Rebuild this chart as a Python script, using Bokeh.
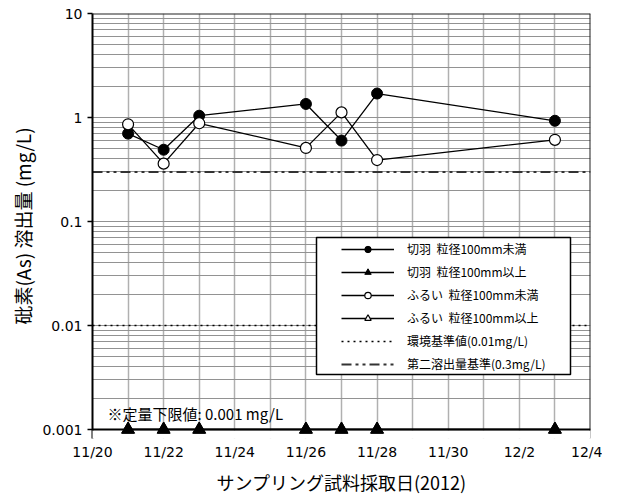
import pandas as pd
from bokeh.plotting import figure
from bokeh.models import (Range1d, FixedTicker, Span, BoxAnnotation, Label,
                          Legend, LegendItem)
from bokeh.embed import file_html
from bokeh.resources import INLINE

# ---------------- data ----------------
sample_dates = ["2012-11-21", "2012-11-22", "2012-11-23", "2012-11-26",
                "2012-11-27", "2012-11-28", "2012-12-03"]
face_lt100 = [0.70, 0.49, 1.04, 1.35, 0.60, 1.70, 0.93]         # 切羽 粒径100mm未満
face_ge100 = [0.001, 0.001, 0.001, 0.001, 0.001, 0.001, 0.001]  # 切羽 粒径100mm以上
sieve_lt100 = [0.86, 0.36, 0.88, 0.51, 1.12, 0.39, 0.61]        # ふるい 粒径100mm未満
sieve_ge100 = [0.001, 0.001, 0.001, 0.001, 0.001, 0.001, 0.001] # ふるい 粒径100mm以上
env_standard = 0.01        # 環境基準値
second_standard = 0.3      # 第二溶出量基準
detection_limit = 0.001

x_start, x_end = "2012-11-20", "2012-12-04"
x_tick_dates = ["2012-11-20", "2012-11-22", "2012-11-24", "2012-11-26",
                "2012-11-28", "2012-11-30", "2012-12-02", "2012-12-04"]
x_tick_labels = ["11/20", "11/22", "11/24", "11/26", "11/28", "11/30", "12/2", "12/4"]
y_ticks = [0.001, 0.01, 0.1, 1, 10]
y_tick_labels = ["0.001", "0.01", "0.1", "1", "10"]

legend_labels = ["切羽  粒径100mm未満", "切羽  粒径100mm以上",
                 "ふるい  粒径100mm未満", "ふるい  粒径100mm以上",
                 "環境基準値(0.01mg/L)", "第二溶出量基準(0.3mg/L)"]


def ms(d):
    return float(pd.Timestamp(d).value // 10**6)


JP = "Noto Sans CJK JP"
NUM = "DejaVu Sans"

# ---------------- layout ----------------
DECADE_PX = 104
EXTRA = 9                      # frame extension below the 0.001 axis (keeps markers unclipped)
y_bottom = detection_limit / 10 ** (EXTRA / DECADE_PX)
FW, FH = 498, 4 * DECADE_PX + EXTRA

xs = pd.to_datetime(sample_dates)
p = figure(x_axis_type="datetime", y_axis_type="log",
           x_range=Range1d(ms(x_start), ms(x_end)),
           y_range=Range1d(y_bottom, y_ticks[-1]),
           frame_width=FW, frame_height=FH,
           min_border_left=92, min_border_right=12, min_border_top=13, min_border_bottom=5,
           output_backend="svg", toolbar_location=None)
p.background_fill_color = "white"
p.border_fill_color = "white"
p.outline_line_color = None

# axes
p.xaxis.ticker = FixedTicker(ticks=[ms(d) for d in x_tick_dates])
p.xaxis.major_label_overrides = {ms(d): lab for d, lab in zip(x_tick_dates, x_tick_labels)}
p.xaxis.axis_line_color = None
p.xaxis.major_tick_line_color = None
p.xaxis.minor_tick_line_color = None
p.xaxis.major_tick_in = 0
p.xaxis.major_tick_out = 0
p.xaxis.major_label_standoff = 5
p.xaxis.major_label_text_font = NUM
p.xaxis.major_label_text_font_size = "14px"
p.xaxis.major_label_text_color = "black"
p.xaxis.axis_label = "サンプリング試料採取日(2012)"
p.xaxis.axis_label_text_font = JP
p.xaxis.axis_label_text_font_size = "18px"
p.xaxis.axis_label_text_font_style = "normal"
p.xaxis.axis_label_text_color = "black"
p.xaxis.axis_label_standoff = 6

minor = [m * d for d in [0.001, 0.01, 0.1, 1] for m in range(2, 10)]
p.yaxis.ticker = FixedTicker(ticks=y_ticks, minor_ticks=minor)
p.yaxis.major_label_overrides = {t: lab for t, lab in zip(y_ticks, y_tick_labels)}
p.yaxis.axis_line_color = "black"
p.yaxis.axis_line_width = 2
p.yaxis.major_tick_line_color = "black"
p.yaxis.major_tick_line_width = 1.5
p.yaxis.major_tick_in = 0
p.yaxis.major_tick_out = 5
p.yaxis.minor_tick_line_color = None
p.yaxis.major_label_standoff = 5
p.yaxis.major_label_text_font = NUM
p.yaxis.major_label_text_font_size = "14px"
p.yaxis.major_label_text_color = "black"
p.yaxis.axis_label = "砒素(As) 溶出量 (mg/L)"
p.yaxis.axis_label_text_font = JP
p.yaxis.axis_label_text_font_size = "19px"
p.yaxis.axis_label_text_font_style = "normal"
p.yaxis.axis_label_text_color = "black"
p.yaxis.axis_label_standoff = 3

# grids
p.xgrid.ticker = FixedTicker(ticks=[ms(d) for d in pd.date_range(x_start, x_end, freq="D")])
p.xgrid.grid_line_color = "#b0b0b0"
p.xgrid.grid_line_width = 1.5
p.ygrid.grid_line_color = "#929292"
p.ygrid.grid_line_width = 1
p.ygrid.minor_grid_line_color = "#929292"
p.ygrid.minor_grid_line_width = 1

# standards
xr = [ms(x_start), ms(x_end)]
r_env = p.line(xr, [env_standard] * 2, line_color="black", line_width=1.5, line_dash="2 4")
r_sec = p.line(xr, [second_standard] * 2, line_color="#333333", line_width=2,
               line_dash="10 4 3 4 3 4")

# series
r1l = p.line(xs, face_lt100, line_color="black", line_width=1.3)
r1m = p.scatter(xs, face_lt100, marker="circle", size=11, fill_color="black", line_color="black")
r3l = p.line(xs, sieve_lt100, line_color="black", line_width=1.3)
r3m = p.scatter(xs, sieve_lt100, marker="circle", size=11, fill_color="white",
                line_color="black", line_width=1.2)
r4l = p.line(xs, sieve_ge100, line_color="black", line_width=1.3)
r4m = p.scatter(xs, sieve_ge100, marker="triangle", size=12, fill_color="white",
                line_color="black", line_width=1.2, level="overlay")
r2l = p.line(xs, face_ge100, line_color="black", line_width=1.3)
r2m = p.scatter(xs, face_ge100, marker="triangle", size=13, fill_color="black",
                line_color="black", level="overlay")

# frame top / right borders
p.add_layout(Span(location=y_ticks[-1], dimension="width", line_color="#222222", line_width=2))
p.add_layout(Span(location=ms(x_end), dimension="height", line_color="#222222", line_width=2))
# blank strip below the 0.001 axis
p.add_layout(BoxAnnotation(left=-3, right=FW + 3, bottom=-3, top=EXTRA - 1,
                           left_units="screen", right_units="screen",
                           bottom_units="screen", top_units="screen",
                           fill_color="white", fill_alpha=1, line_color=None))
# bottom axis line at 0.001
p.add_layout(Span(location=detection_limit, dimension="width",
                  line_color="black", line_width=2, level="overlay"))

# legend box
p.add_layout(BoxAnnotation(left=224, right=478, bottom=64, top=201,
                           left_units="screen", right_units="screen",
                           bottom_units="screen", top_units="screen",
                           fill_color="white", fill_alpha=1,
                           line_color="black", line_width=1.5, line_alpha=1))

legend = Legend(items=[
    LegendItem(label=legend_labels[0], renderers=[r1l, r1m]),
    LegendItem(label=legend_labels[1], renderers=[r2l, r2m]),
    LegendItem(label=legend_labels[2], renderers=[r3l, r3m]),
    LegendItem(label=legend_labels[3], renderers=[r4l, r4m]),
    LegendItem(label=legend_labels[4], renderers=[r_env]),
    LegendItem(label=legend_labels[5], renderers=[r_sec]),
], location=(249, 66), padding=0, spacing=6, margin=0,
    glyph_width=53, glyph_height=16, label_height=16, label_standoff=13,
    border_line_color=None, background_fill_alpha=0,
    label_text_font=JP, label_text_font_size="12px", label_text_color="black")
p.add_layout(legend, "center")

p.add_layout(Label(x=15, y=25, x_units="screen", y_units="screen",
                   text="※定量下限値: 0.001 mg/L", text_baseline="middle",
                   text_font=JP, text_font_size="15px", text_color="black"))

open("out.html", "w").write(file_html(p, INLINE))
